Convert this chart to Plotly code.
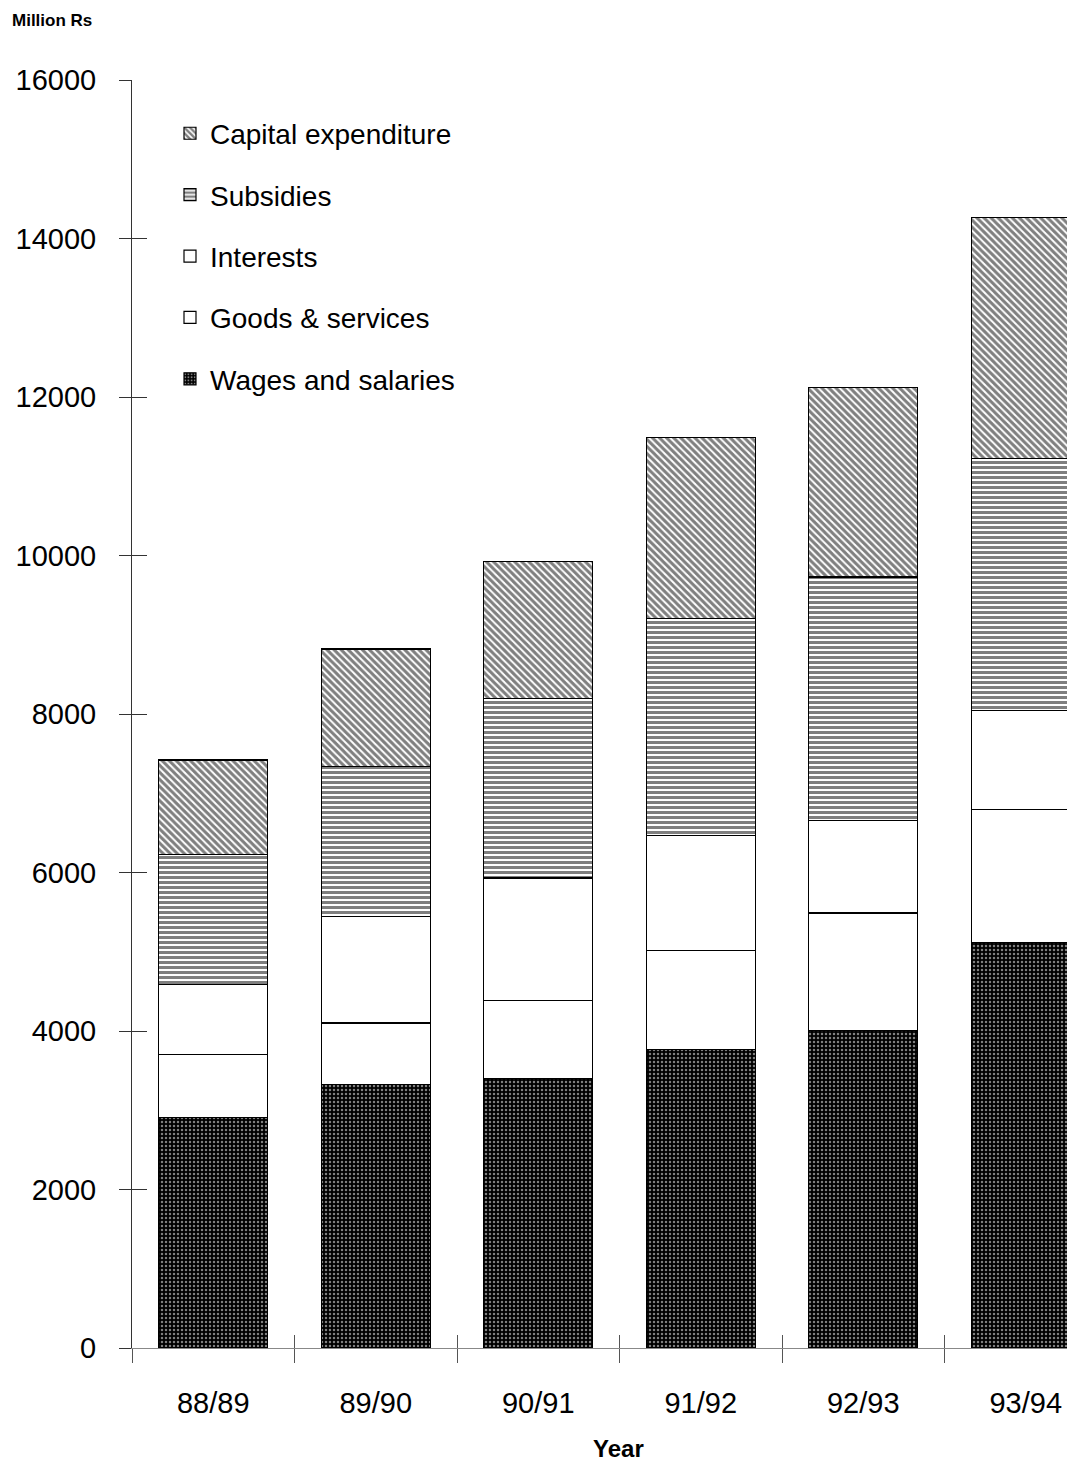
import plotly.graph_objects as go

years = ["88/89", "89/90", "90/91", "91/92", "92/93", "93/94"]
wages = [2910, 3320, 3400, 3770, 4010, 5120]
goods = [790, 780, 980, 1250, 1480, 1670]
interests = [890, 1340, 1550, 1450, 1170, 1250]
subsidies = [1640, 1900, 2270, 2740, 3070, 3180]
capital = [1190, 1480, 1720, 2280, 2390, 3050]

FONT = "Liberation Sans"
OFF = 8  # page body margin
W, H = 1075 - OFF, 1465 - OFF
ML, MR, MT, MB = 132 - OFF, 0, 80 - OFF, 117
PW, PH = W - ML - MR, H - MT - MB
cat_px = 162.5
x_right = -0.5 + PW / cat_px

series = [
    ("Wages and salaries", wages, dict(color="black", pattern=dict(shape=".", fgcolor="white", bgcolor="black", size=4, solidity=0.3))),
    ("Goods & services", goods, dict(color="white")),
    ("Interests", interests, dict(color="white")),
    ("Subsidies", subsidies, dict(color="white", pattern=dict(shape="-", fgcolor="black", bgcolor="white", size=5, solidity=0.6))),
    ("Capital expenditure", capital, dict(color="white", pattern=dict(shape="\\", fgcolor="black", bgcolor="white", size=5, solidity=0.6))),
]

fig = go.Figure()
n = len(series)
for i, (name, vals, mk) in enumerate(series):
    mk = dict(mk)
    mk["line"] = dict(color="black", width=1.2)
    fig.add_trace(go.Bar(x=years, y=vals, name=name, marker=mk,
                         legendgroup=name, legendrank=n - i))

# invisible helper trace so the overlay axes (crossing ticks) are drawn
fig.add_trace(go.Scatter(x=years, y=wages, xaxis="x2", yaxis="y2", mode="markers",
                         marker=dict(opacity=0), showlegend=False, hoverinfo="skip"))

fig.update_layout(
    width=W, height=H,
    margin=dict(l=ML, r=MR, t=MT, b=MB),
    barmode="stack", bargap=0.33,
    plot_bgcolor="white", paper_bgcolor="white",
    font=dict(family=FONT, color="black"),
    showlegend=True,
    legend=dict(x=(170 - 132) / PW, y=0.9775, xanchor="left", yanchor="top",
                traceorder="grouped", tracegroupgap=22,
                font=dict(size=28, family=FONT), bgcolor="rgba(0,0,0,0)"),
    title=dict(text="<b>Million Rs</b>", x=(12 - OFF) / W, xref="container", xanchor="left",
               y=1 - (20 - OFF) / H, yref="container", yanchor="middle",
               font=dict(size=17, family=FONT)),
    xaxis=dict(type="category", range=[-0.5, x_right], showgrid=False, zeroline=False,
               showline=True, linecolor="#888", linewidth=1,
               ticks="outside", tickson="boundaries", ticklen=14, tickcolor="#555", tickwidth=1,
               tickfont=dict(size=29, family=FONT), ticklabelstandoff=29),
    xaxis2=dict(type="category", overlaying="x", anchor="y", side="bottom", range=[-0.5, x_right],
                tickson="boundaries", ticks="inside", ticklen=13, tickcolor="#555",
                showticklabels=False, showgrid=False, zeroline=False, showline=False),
    yaxis=dict(range=[0, 16000], tick0=0, dtick=2000, tickformat="d", showgrid=False, zeroline=False,
               showline=True, linecolor="#333", linewidth=1,
               ticks="outside", ticklen=12, tickcolor="#333", tickwidth=1,
               tickfont=dict(size=29, family=FONT), ticklabelstandoff=17),
    yaxis2=dict(overlaying="y", anchor="x", side="left", range=[0, 16000], tick0=0, dtick=2000,
                ticks="inside", ticklen=15, tickcolor="#333", showticklabels=False,
                showgrid=False, zeroline=False, showline=False),
)

fig.add_annotation(text="<b>Year</b>", xref="paper", yref="paper",
                   x=(618 - 132) / PW, y=-100 / PH,
                   xanchor="center", yanchor="middle", showarrow=False,
                   font=dict(size=24, family=FONT))

fig.write_html("out.html")
